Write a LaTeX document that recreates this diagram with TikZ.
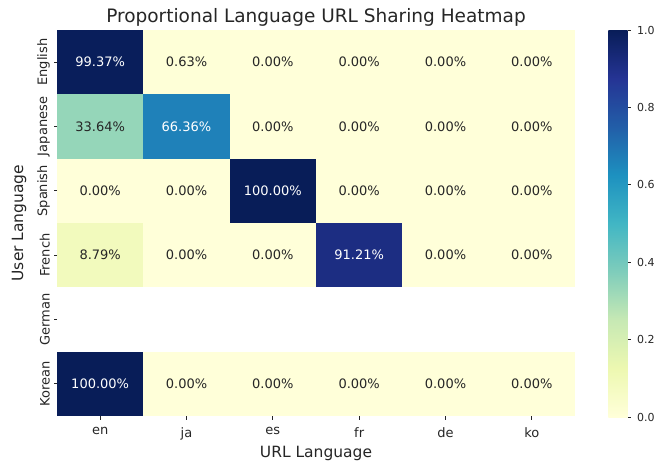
\documentclass[tikz,border=0pt]{standalone}
\usepackage{fontspec}
\setmainfont{DejaVu Sans}

\definecolor{hmink}{RGB}{38,38,38}
% YlGnBu stops
\definecolor{ylA}{RGB}{255,255,217}
\definecolor{ylB}{RGB}{237,248,177}
\definecolor{ylC}{RGB}{199,233,180}
\definecolor{ylD}{RGB}{127,205,187}
\definecolor{ylE}{RGB}{65,182,196}
\definecolor{ylF}{RGB}{29,145,192}
\definecolor{ylG}{RGB}{34,94,168}
\definecolor{ylH}{RGB}{37,52,148}
\definecolor{ylI}{RGB}{8,29,88}
% cell colours
\definecolor{hmZero}{RGB}{255,255,217}
\definecolor{hmLow}{RGB}{254,255,215}
\definecolor{hmFrEn}{RGB}{242,250,189}
\definecolor{hmJaEn}{RGB}{149,214,185}
\definecolor{hmJaJa}{RGB}{31,129,185}
\definecolor{hmFrFr}{RGB}{28,45,130}
\definecolor{hmEnEn}{RGB}{9,30,91}
\definecolor{hmFull}{RGB}{8,29,88}

\pgfdeclareverticalshading{ylgnbu}{100bp}{color(0bp)=(ylA); color(25bp)=(ylA);
  color(31.25bp)=(ylB); color(37.5bp)=(ylC); color(43.75bp)=(ylD); color(50bp)=(ylE);
  color(56.25bp)=(ylF); color(62.5bp)=(ylG); color(68.75bp)=(ylH); color(75bp)=(ylI);
  color(100bp)=(ylI)}

\begin{document}
\begin{tikzpicture}[x=1pt,y=-1pt,
    cell/.style={rectangle,inner sep=0pt,minimum width=86.6pt,minimum height=64.6pt,
      font=\fontsize{13}{15}\selectfont},
    tick/.style={draw=hmink,line width=0.8pt},
    ticklabel/.style={inner sep=0pt,text=hmink,font=\fontsize{13}{15}\selectfont},
    cbarlabel/.style={inner sep=0pt,text=hmink,font=\fontsize{11}{13}\selectfont},
    axislabel/.style={inner sep=0pt,text=hmink,font=\fontsize{15.5}{18}\selectfont}]
    \useasboundingbox[fill=white] (0,0) rectangle (656,464);

    % heatmap cells (German row has no data)
    \foreach \r/\cells in {
        1/{hmEnEn/99.37/white,hmLow/0.63/hmink,hmZero/0.00/hmink,hmZero/0.00/hmink,hmZero/0.00/hmink,hmZero/0.00/hmink},
        2/{hmJaEn/33.64/hmink,hmJaJa/66.36/white,hmZero/0.00/hmink,hmZero/0.00/hmink,hmZero/0.00/hmink,hmZero/0.00/hmink},
        3/{hmZero/0.00/hmink,hmZero/0.00/hmink,hmFull/100.00/white,hmZero/0.00/hmink,hmZero/0.00/hmink,hmZero/0.00/hmink},
        4/{hmFrEn/8.79/hmink,hmZero/0.00/hmink,hmZero/0.00/hmink,hmFrFr/91.21/white,hmZero/0.00/hmink,hmZero/0.00/hmink},
        6/{hmFull/100.00/white,hmZero/0.00/hmink,hmZero/0.00/hmink,hmZero/0.00/hmink,hmZero/0.00/hmink,hmZero/0.00/hmink}}
      \foreach \cc/\val/\tc [count=\c] in \cells
        \node[cell,fill=\cc,text=\tc] (cell-\r-\c) at ({57+86.33*(\c-0.5)},{30+64.33*(\r-0.5)}) {\val\%};

    % y axis
    \foreach \lang [count=\r] in {English,Japanese,Spanish,French,German,Korean}{
      \coordinate (yt-\r) at (57,{30+64.33*(\r-0.5)});
      \draw[tick] (yt-\r) -- ++(-3.5,0) coordinate (ytend-\r);
      \node[ticklabel,rotate=90,anchor=south] (ylab-\r) at ([xshift=-3.5pt]ytend-\r) {\lang};
    }
    \node[axislabel,rotate=90] (ylabel) at (19,223) {User Language};

    % x axis
    \foreach \code [count=\c] in {en,ja,es,fr,de,ko}{
      \coordinate (xt-\c) at ({57+86.33*(\c-0.5)},416);
      \draw[tick] (xt-\c) -- ++(0,3.5) coordinate (xtend-\c);
      \node[ticklabel,anchor=north] (xlab-\c) at ([yshift=-8pt]xtend-\c) {\code};
    }
    \node[axislabel] (xlabel) at (316,453) {URL Language};

    \node[text=hmink,font=\fontsize{18.5}{22}\selectfont,inner sep=0pt] (title) at (316,17)
      {Proportional Language URL Sharing Heatmap};

    % colour bar
    \node[inner sep=0pt,minimum width=19.4pt,minimum height=387pt,shading=ylgnbu] (cbar) at (618,223.5) {};
    \foreach \v [count=\i] in {0.0,0.2,0.4,0.6,0.8,1.0}{
      \coordinate (ct-\i) at (cbar.south east |- 0,{417-387*\v});
      \draw[tick] (ct-\i) -- ++(3.5,0) coordinate (ctend-\i);
      \node[cbarlabel,anchor=west] (clab-\i) at ([xshift=5.5pt]ctend-\i) {\v};
    }
\end{tikzpicture}
\end{document}
